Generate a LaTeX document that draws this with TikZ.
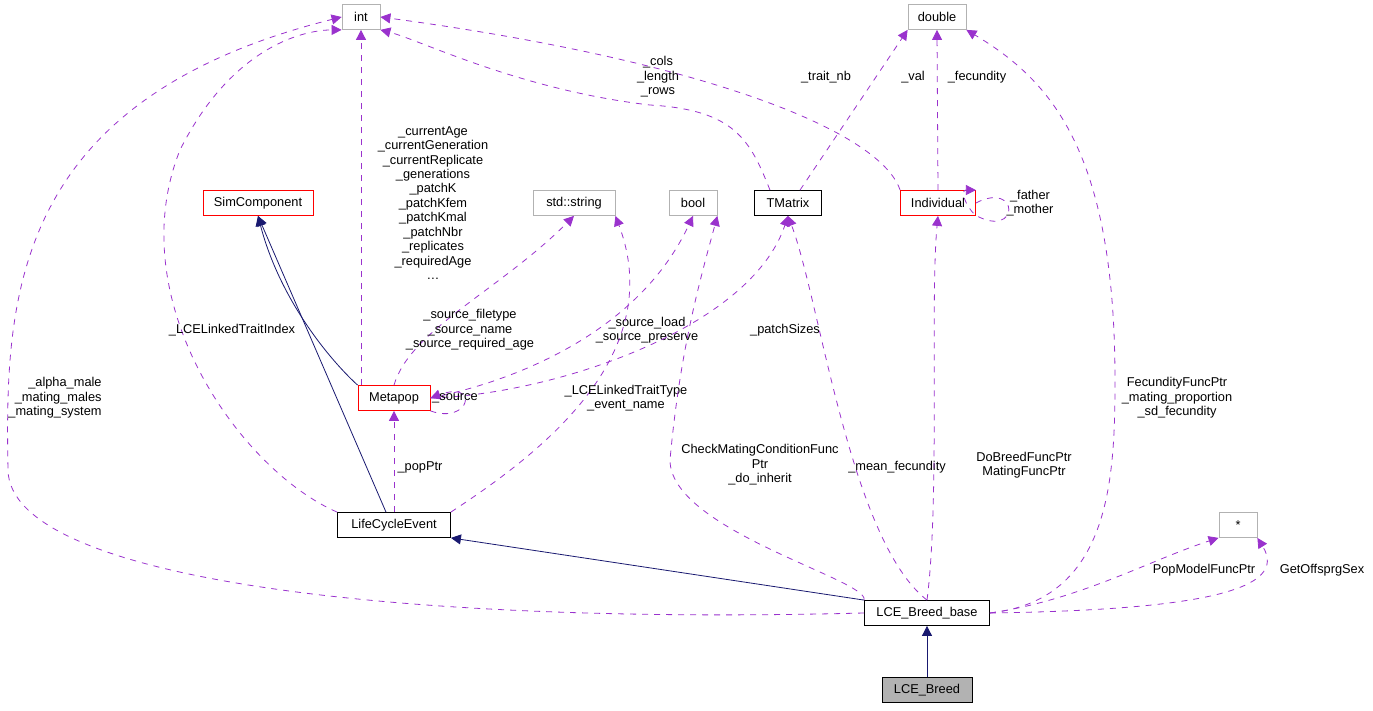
\documentclass[tikz,border=0pt]{standalone}
\usepackage{fontspec}
\setmainfont{Liberation Sans}
\usetikzlibrary{arrows.meta}
\definecolor{usecol}{HTML}{9A32CD}
\definecolor{inhcol}{HTML}{191970}
\tikzset{
  cls/.style={draw, fill=white, inner sep=0pt, minimum height=12.5pt, font=\fontsize{6.4}{7.4}\selectfont},
  ext/.style={cls, draw=gray!60},
  red/.style={cls, draw=red},
  use/.style={draw=usecol, dashed, -{Triangle[length=5pt,width=5pt]}, fill=none},
  inh/.style={draw=inhcol, -{Triangle[length=5pt,width=5pt]}},
  lbl/.style={align=center, font=\fontsize{6.4}{7.2}\selectfont, inner sep=0pt}
}
\begin{document}
\begin{tikzpicture}[x=0.5pt, y=-0.5pt]
\useasboundingbox (0,0) rectangle (1373,711);
% classes
\node[ext, minimum width=19pt] (int) at (361,17) {int};
\node[ext, minimum width=29pt] (dbl) at (937,17) {double};
\node[red, minimum width=55pt] (sim) at (258,203) {SimComponent};
\node[ext, minimum width=41pt] (str) at (574,203) {std::string};
\node[ext, minimum width=24pt] (bool) at (693,203) {bool};
\node[cls, minimum width=33.5pt] (tmat) at (788,203) {TMatrix};
\node[red, minimum width=37.5pt] (ind) at (938,203) {Individual};
\node[red, minimum width=36pt] (meta) at (394,398) {Metapop};
\node[cls, minimum width=56.5pt] (lce) at (394,525) {LifeCycleEvent};
\node[ext, minimum width=19pt] (ptr) at (1238,525) {*};
\node[cls, minimum width=62.5pt] (base) at (927,613) {LCE\_Breed\_base};
\node[cls, fill=gray!60, minimum width=45pt] (breed) at (927,690) {LCE\_Breed};

% usage links
\draw[use] (base.west) .. controls (400,625) and (10,580) .. (8,470) .. controls (5,300) and (10,100) .. (int.west);
\node[lbl, align=right] at (55,398) {\_alpha\_male\\\_mating\_males\\\_mating\_system};
\draw[use] (lce.north west) .. controls (240,470) and (120,300) .. (180,150) .. controls (230,50) and (300,30) .. (int.south west);
\node[lbl] at (232,330) {\_LCELinkedTraitIndex};
\draw[use] (meta.north -| int) -- (int.south);
\node[lbl] at (433,203) {\_currentAge\\\_currentGeneration\\\_currentReplicate\\\_generations\\\_patchK\\\_patchKfem\\\_patchKmal\\\_patchNbr\\\_replicates\\\_requiredAge\\\dots};
\draw[use] (tmat.north -| 770,0) .. controls (750,140) and (735,110) .. (650,105) .. controls (520,90) and (420,40) .. (int.south east);
\node[lbl] at (658,77) {\_cols\\\_length\\\_rows};
\draw[use] (ind.north west) .. controls (880,130) and (700,60) .. (int.east);
\node[lbl] at (826,77) {\_trait\_nb};
\draw[use] (tmat.north -| 800,0) -- (dbl.south west);
\node[lbl] at (913,77) {\_val};
\draw[use] (ind.north) -- (dbl.south);
\node[lbl] at (977,77) {\_fecundity};
\draw[use] (base.east) .. controls (1110,600) and (1115,480) .. (1115,380) .. controls (1115,150) and (1050,80) .. (dbl.south east);
\node[lbl] at (1177,398) {FecundityFuncPtr\\\_mating\_proportion\\\_sd\_fecundity};
\draw[use] (ind.east) .. controls (1020,180) and (1020,240) .. (975,215) .. controls (965,205) and (960,190) .. (ind.north east);
\node[lbl] at (1030,203) {\_father\\\_mother};
\draw[use] (meta.north) .. controls (410,330) and (500,290) .. (str.south);
\node[lbl] at (470,330) {\_source\_filetype\\\_source\_name\\\_source\_required\_age};
\draw[use] (meta.east) .. controls (520,380) and (640,330) .. (bool.south);
\node[lbl] at (647,330) {\_source\_load\\\_source\_preserve};
\draw[use] (meta.east) .. controls (550,395) and (750,330) .. (tmat.south);
\node[lbl] at (785,330) {\_patchSizes};
\draw[use] (meta.south east) .. controls (470,425) and (480,380) .. (meta.east);
\node[lbl] at (455,398) {\_source};
\draw[use] (lce.north east) .. controls (530,460) and (670,360) .. (str.south east);
\node[lbl] at (626,398) {\_LCELinkedTraitType\\\_event\_name};
\draw[use] (lce.north) -- (meta.south);
\node[lbl] at (420,467) {\_popPtr};
\draw[use] (base.north west) .. controls (870,580) and (670,530) .. (670,460) .. controls (680,350) and (700,280) .. (bool.south east);
\node[lbl] at (760,465) {CheckMatingConditionFunc\\Ptr\\\_do\_inherit};
\draw[use] (base.north) .. controls (850,540) and (820,300) .. (tmat.south);
\node[lbl] at (897,467) {\_mean\_fecundity};
\draw[use] (base.north) .. controls (940,500) and (930,300) .. (ind.south);
\node[lbl] at (1024,465) {DoBreedFuncPtr\\MatingFuncPtr};
\draw[use] (base.east) .. controls (1080,600) and (1150,560) .. (ptr.south west);
\node[lbl] at (1204,570) {PopModelFuncPtr};
\draw[use] (base.east) .. controls (1200,610) and (1290,590) .. (ptr.south east);
\node[lbl] at (1322,570) {GetOffsprgSex};

% inheritance
\draw[inh] (meta.north west) .. controls (330,360) and (280,300) .. (sim.south);
\draw[inh] (lce.north) ++(-8,0) -- (sim.south);
\draw[inh] (base.north west) -- (lce.south east);
\draw[inh] (breed) -- (base);
\end{tikzpicture}
\end{document}
